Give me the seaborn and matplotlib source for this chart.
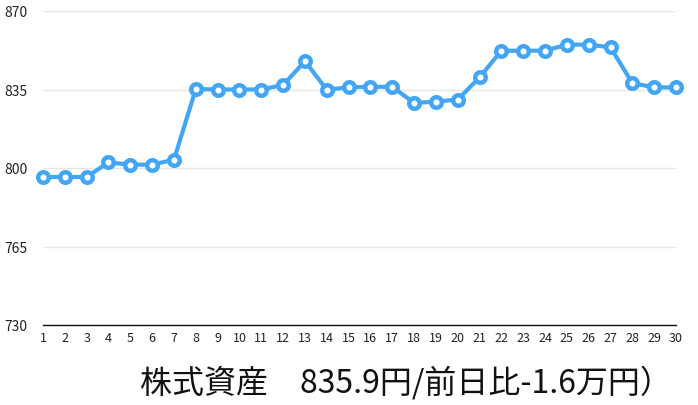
import matplotlib
matplotlib.use("Agg")
import matplotlib.pyplot as plt
import seaborn as sns
import pandas as pd

# daily stock assets
days = list(range(1, 31))
assets = [796.0, 796.0, 796.0, 802.5, 801.5, 801.5, 803.7, 835.2, 835.0, 835.0,
          835.0, 837.0, 847.6, 834.9, 836.0, 836.2, 836.2, 829.0, 829.6, 830.5,
          840.4, 852.3, 852.3, 852.3, 855.0, 855.0, 853.8, 837.8, 836.0, 835.9]
y_ticks = [730, 765, 800, 835, 870]
caption = "株式資産\u3000835.9円/前日比-1.6万円）"

df = pd.DataFrame({"day": days, "asset": assets})

sns.set_style("white")
plt.rcParams["font.family"] = ["Noto Sans CJK JP", "DejaVu Sans"]

fig = plt.figure(figsize=(6.98, 4.06), dpi=100)
ax = fig.add_axes([43 / 698, 1 - 326 / 406, 633 / 698, 314 / 406])

blue = "#42A5F5"
sns.lineplot(data=df, x="day", y="asset", ax=ax, color=blue, linewidth=3,
             marker="o", markersize=7.6, markerfacecolor="white",
             markeredgecolor=blue, markeredgewidth=3.2, clip_on=False, zorder=5)

ax.set_xlim(1, 30)
ax.set_ylim(730, 870)
ax.set_xticks(days)
ax.set_xticklabels([str(d) for d in days], fontsize=9)
ax.set_yticks(y_ticks)
ax.set_yticklabels([str(v) for v in y_ticks], fontsize=10)
ax.tick_params(axis="both", length=0, colors="#222222")
ax.tick_params(axis="y", pad=11)
ax.tick_params(axis="x", pad=4)

ax.grid(axis="y", color="#e6e6e6", linewidth=1)
ax.set_axisbelow(True)
for side in ["top", "right", "left"]:
    ax.spines[side].set_visible(False)
ax.spines["bottom"].set_color("#111111")
ax.spines["bottom"].set_linewidth(1)
ax.set_xlabel("")
ax.set_ylabel("")

fig.text(406 / 698, 1 - 383 / 406, caption, ha="center", va="center",
         fontsize=23, color="#111111")

fig.savefig("out.png", dpi=100)
